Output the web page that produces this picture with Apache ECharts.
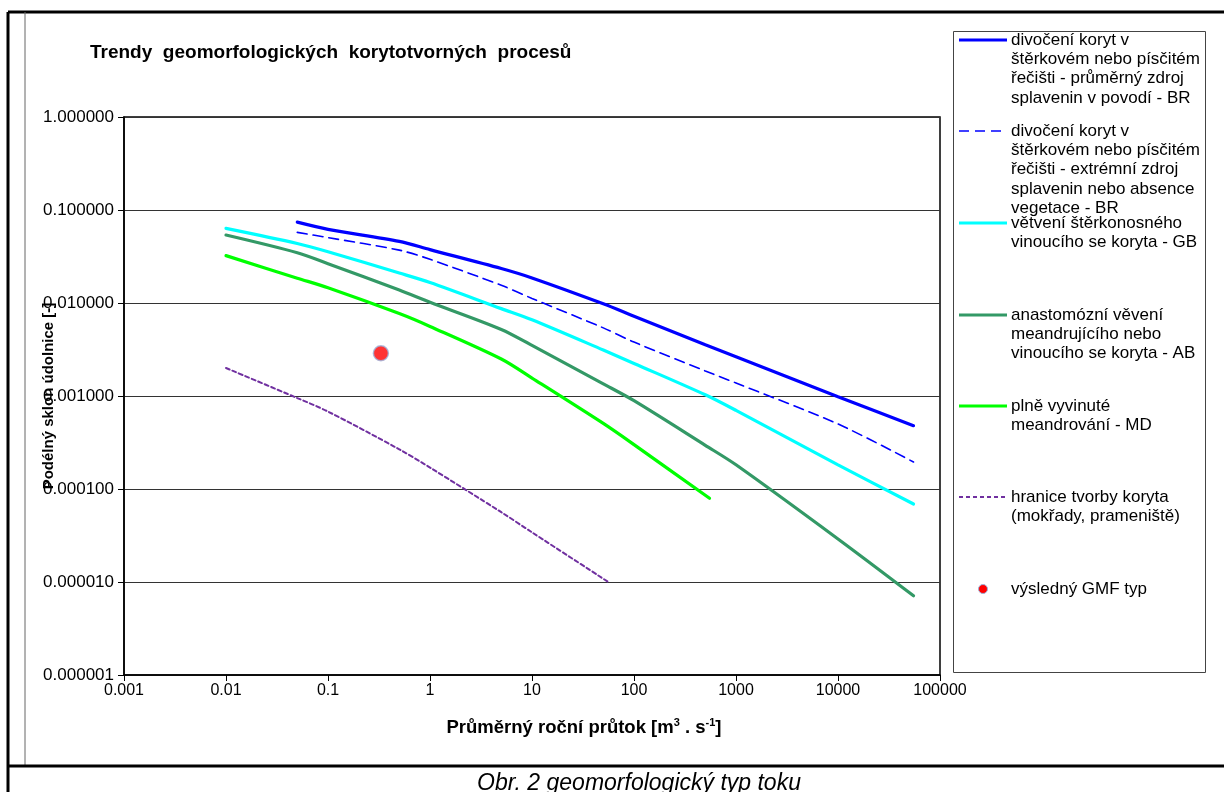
<!DOCTYPE html>
<html><head><meta charset="utf-8">
<script src="https://cdn.jsdelivr.net/npm/echarts@6/dist/echarts.min.js"></script>
<style>html,body{margin:0;padding:0;background:#fff}#c{width:1224px;height:792px}</style>
</head><body><div id="c"></div>
<script>
// ---- data ----
const brAvgX = [0.05, 0.1, 0.5, 1, 5, 10, 50, 100, 500, 1000, 10000, 55000];
const brAvgY = [0.074, 0.062, 0.046, 0.0375, 0.0235, 0.0186, 0.0098, 0.0072, 0.00355, 0.00265, 0.00098, 0.00048];
const brExtX = [0.05, 0.1, 0.5, 1, 5, 10, 50, 100, 500, 1000, 10000, 55000];
const brExtY = [0.0575, 0.0505, 0.037, 0.0295, 0.0155, 0.0112, 0.0054, 0.0038, 0.00186, 0.00138, 0.0005, 0.000195];
const gbX = [0.01, 0.05, 0.1, 0.5, 1, 5, 10, 50, 100, 500, 1000, 10000, 55000];
const gbY = [0.0635, 0.0437, 0.0356, 0.021, 0.0166, 0.0087, 0.0066, 0.00312, 0.00224, 0.00103, 0.0007, 0.000182, 0.000069];
const abX = [0.01, 0.05, 0.1, 0.5, 1, 5, 10, 50, 100, 500, 1000, 10000, 55000];
const abY = [0.0538, 0.0347, 0.0265, 0.0138, 0.0102, 0.0052, 0.0035, 0.00135, 0.00089, 0.000295, 0.000182, 0.000029, 0.0000071];
const mdX = [0.01, 0.05, 0.1, 0.5, 1, 5, 10, 50, 100, 550];
const mdY = [0.0323, 0.0185, 0.0146, 0.0077, 0.0056, 0.0025, 0.00156, 0.000507, 0.0003, 0.0000794];
const bndX = [0.01, 0.05, 0.1, 0.5, 1, 5, 10, 56];
const bndY = [0.002, 0.00095, 0.00068, 0.000267, 0.00017, 0.0000563, 0.0000342, 0.00001];
const gmfX = [0.33];
const gmfY = [0.00288];

const xTickLabels = ['0.001','0.01','0.1','1','10','100','1000','10000','100000'];
const yTickLabels = ['0.000001','0.000010','0.000100','0.001000','0.010000','0.100000','1.000000'];

const legendItems = [
  {y: 40, lines: ['divočení koryt v','štěrkovém nebo písčitém','řečišti - průměrný zdroj','splavenin v povodí - BR']},
  {y: 131, lines: ['divočení koryt v','štěrkovém nebo písčitém','řečišti - extrémní zdroj','splavenin nebo absence','vegetace - BR']},
  {y: 223, lines: ['větvení štěrkonosného','vinoucího se koryta - GB']},
  {y: 315, lines: ['anastomózní věvení','meandrujícího nebo','vinoucího se koryta - AB']},
  {y: 406, lines: ['plně vyvinuté','meandrování - MD']},
  {y: 497, lines: ['hranice tvorby koryta','(mokřady, prameniště)']},
  {y: 589, lines: ['výsledný GMF typ']}
];

const styles = [
  {color:'#0000FF', width:3.2, type:'solid'},
  {color:'#0000FF', width:1.6, type:[10,6]},
  {color:'#00FFFF', width:3.2, type:'solid'},
  {color:'#339966', width:3.2, type:'solid'},
  {color:'#00FF00', width:3.2, type:'solid'},
  {color:'#7030A0', width:2, type:[4,3]}
];

const zip = (xs, ys) => xs.map((x, i) => [x, ys[i]]);
const FONT = '"Liberation Sans", Arial, sans-serif';

function expOf(v){ return Math.round(Math.log10(v)); }

const lineSeries = [
  zip(brAvgX, brAvgY), zip(brExtX, brExtY), zip(gbX, gbY), zip(abX, abY), zip(mdX, mdY), zip(bndX, bndY)
].map((d, i) => ({
  type:'line', data:d, showSymbol:false, smooth:0.3, z: 3,
  lineStyle:{color:styles[i].color, width:styles[i].width, type:styles[i].type, cap:'round'},
  itemStyle:{color:styles[i].color}
}));

// legend graphic
const lg = [];
lg.push({type:'rect', shape:{x:953.5, y:31.5, width:252, height:641}, style:{fill:'#fff', stroke:'#444', lineWidth:1}, z:10});
legendItems.forEach((it, i) => {
  if (i < 6) {
    const s = styles[i];
    lg.push({type:'line', shape:{x1:959, y1:it.y, x2:1007, y2:it.y},
      style:{stroke:s.color, lineWidth:s.width, lineDash: Array.isArray(s.type) ? s.type : null}, z:11});
  } else {
    lg.push({type:'circle', shape:{cx:983, cy:it.y, r:4.5}, style:{fill:'#FF0000', stroke:'#9DB0D8', lineWidth:1}, z:11});
  }
  lg.push({type:'text', x:1011, y:it.y - 9.6, z:11,
    style:{text:it.lines.join('\n'), font:'17px ' + FONT, fill:'#000', lineHeight:19.3, verticalAlign:'top', align:'left'}});
});

const frame = [
  {type:'line', shape:{x1:8, y1:12, x2:1224, y2:12}, style:{stroke:'#000', lineWidth:3}},
  {type:'line', shape:{x1:8, y1:12, x2:8, y2:792}, style:{stroke:'#000', lineWidth:3}},
  {type:'line', shape:{x1:25, y1:12, x2:25, y2:766}, style:{stroke:'#666', lineWidth:1}},
  {type:'line', shape:{x1:8, y1:766, x2:1224, y2:766}, style:{stroke:'#000', lineWidth:3}},
  {type:'text', x:90, y:53, style:{text:'Trendy  geomorfologických  korytotvorných  procesů', font:'bold 19px ' + FONT, fill:'#000', verticalAlign:'middle'}},
  {type:'text', x:584, y:727, style:{
    text:'{a|Průměrný roční průtok [m}{s|3}{a| . s}{s|-1}{a|]}',
    align:'center', verticalAlign:'middle',
    rich:{a:{font:'bold 18.5px ' + FONT, fill:'#000', lineHeight:20, verticalAlign:'bottom'},
          s:{font:'bold 11px ' + FONT, fill:'#000', lineHeight:20, verticalAlign:'top'}}}},
  {type:'text', x:639, y:784, style:{text:'Obr. 2 geomorfologický typ toku', font:'italic 23px ' + FONT, fill:'#000', align:'center', verticalAlign:'middle'}}
];

const chart = echarts.init(document.getElementById('c'), null, {renderer:'canvas'});
chart.setOption({
  animation:false,
  backgroundColor:'#fff',
  grid:{left:124, right:284, top:117, bottom:117, show:true, borderColor:'#000', borderWidth:1.5, backgroundColor:'#fff'},
  xAxis:{type:'log', logBase:10, min:0.001, max:100000, splitNumber:8,
    axisLine:{show:true, lineStyle:{color:'#000', width:1.5}},
    axisTick:{show:true, length:6, inside:false, lineStyle:{color:'#000'}},
    splitLine:{show:false},
    axisLabel:{margin:8, fontFamily:FONT, fontSize:16, color:'#000',
      formatter:(v) => xTickLabels[expOf(v) + 3]}
  },
  yAxis:{type:'log', logBase:10, min:0.000001, max:1, splitNumber:6,
    name:'Podélný sklon údolnice [-]', nameLocation:'middle', nameGap:68, nameMoveOverlap:false,
    nameTextStyle:{fontFamily:FONT, fontWeight:'bold', fontSize:15, color:'#000'},
    axisLine:{show:true, lineStyle:{color:'#000', width:1.5}},
    axisTick:{show:true, length:6, inside:false, lineStyle:{color:'#000'}},
    splitLine:{show:true, lineStyle:{color:'#333', width:1}},
    axisLabel:{margin:10, fontFamily:FONT, fontSize:17, color:'#000',
      formatter:(v) => yTickLabels[expOf(v) + 6]}
  },
  series: lineSeries.concat([{
    type:'scatter', data:zip(gmfX, gmfY), symbolSize:15, z:4,
    itemStyle:{color:'#FF0000', borderColor:'#9DB0D8', borderWidth:1.5}
  }]),
  graphic: frame.concat(lg)
});
</script></body></html>
